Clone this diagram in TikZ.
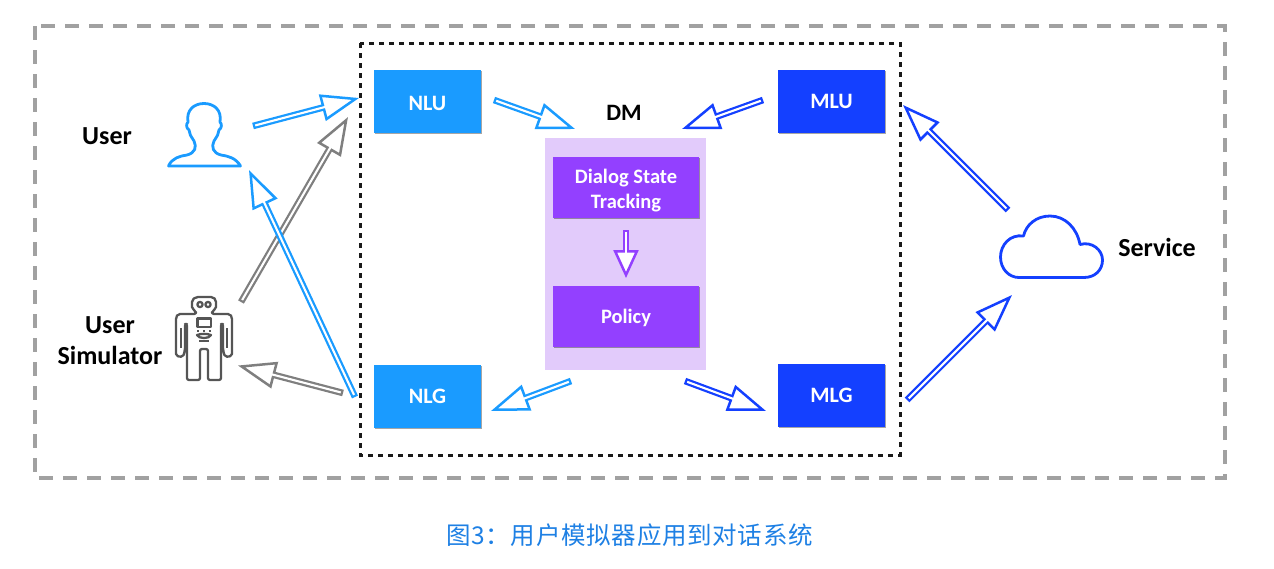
\documentclass[tikz,border=0pt]{standalone}
\usepackage{fontspec}
\setmainfont{Carlito}
\newfontfamily\cjkfont[LetterSpace=3]{Noto Sans CJK SC}
\usetikzlibrary{arrows.meta,shadows,calc}
\definecolor{lblue}{HTML}{1A9BFF}
\definecolor{dblue}{HTML}{1440FF}
\definecolor{purp}{HTML}{9340FF}
\definecolor{lpurp}{HTML}{E2CBFB}
\definecolor{arrgray}{HTML}{7F7F7F}
\definecolor{robgray}{HTML}{555555}
\definecolor{capblue}{HTML}{1E80E4}
\newcommand{\shifted}[2]{\smash{\raisebox{#1}{#2}}}
\tikzset{
  x=1pt,y=-1pt,
  softshadow/.style={drop shadow={shadow xshift=0.6pt,shadow yshift=-1.2pt,opacity=.35,fill=black}},
  box/.style={minimum width=#1,inner sep=0pt,align=center,text=white,softshadow},
  nlbox/.style={box=107pt,minimum height=63pt,fill=lblue,font=\fontsize{22}{25}\selectfont\bfseries},
  mlbox/.style={box=107pt,minimum height=63pt,fill=dblue,font=\fontsize{22}{25}\selectfont\bfseries},
  dmbox/.style={box=146pt,minimum height=61pt,fill=purp,font=\fontsize{20.5}{25}\selectfont\bfseries},
  lab/.style={font=\fontsize{26}{31}\selectfont\bfseries,align=center,text=black,inner sep=0pt},
  hollow/.style={draw=#1,line width=6.6pt,line join=miter,
    -{Triangle[length=38pt,width=27pt,fill=white,line width=2.5pt]},
    postaction={draw=white,line width=2.1pt,-,shorten <=2.3pt,shorten >=21pt}},
  hollowshort/.style={draw=#1,line width=6.6pt,line join=miter,
    -{Triangle[length=28pt,width=25pt,fill=white,line width=2.5pt]},
    postaction={draw=white,line width=2.1pt,-,shorten <=2.3pt,shorten >=16pt}},
  outerframe/.style={draw=black!37,line width=3.4pt,dash pattern=on 14pt off 10pt},
  innerframe/.style={draw=black!90,line width=3pt,dash pattern=on 5pt off 5pt},
  icon/.style={line width=2.8pt,line join=round,line cap=round},
}
\begin{document}
\begin{tikzpicture}
\useasboundingbox (0,0) rectangle (1274,568);
\draw[outerframe] (35,26) rectangle (1225,478);
\draw[innerframe] (360,43) rectangle (900,455);

% DM block
\node[fill=lpurp,minimum width=161pt,minimum height=232pt,inner sep=0pt] (dm) at (625.5,254) {};
\node[dmbox] (dst) at (626,187.5) {\shifted{-8.5pt}{\begin{tabular}{@{}c@{}}Dialog State\\Tracking\end{tabular}}};
\node[dmbox] (policy) at (626,316.5) {\shifted{-6.7pt}{Policy}};
\node[lab,font=\fontsize{23.5}{31}\selectfont\bfseries] (dmlabel) at (624,112.5) {DM};

% boxes
\node[nlbox] (nlu) at (427.5,101.5) {\shifted{-8.5pt}{NLU}};
\node[nlbox] (nlg) at (427.5,396) {\shifted{-7.5pt}{NLG}};
\node[mlbox] (mlu) at (831.5,101.5) {\shifted{-6.5pt}{MLU}};
\node[mlbox] (mlg) at (831.5,395.5) {\shifted{-7pt}{MLG}};

% labels
\node[lab] (userlabel) at (107,135.7) {User};
\node[lab] (simlabel) at (110,340.2) {User\\Simulator};
\node[lab] (servicelabel) at (1157,247) {Service};
\node[text=capblue,inner sep=0pt,font=\fontsize{24.5}{28}\selectfont\cjkfont] (caption) at (629.5,535) {图3：用户模拟器应用到对话系统};

% user icon
\draw[lblue,icon] (168.5,166) .. controls (172,158) and (180,156) .. (187,155)
  .. controls (195,153) and (197,147) .. (194,141)
  .. controls (191,136) and (189,134) .. (189,130)
  .. controls (186,128) and (186,124) .. (188,122)
  .. controls (186,110) and (194,103.5) .. (204,103.5)
  .. controls (214,103.5) and (222,110) .. (220,122)
  .. controls (222,124) and (222,128) .. (219,130)
  .. controls (219,134) and (217,136) .. (214,141)
  .. controls (211,147) and (213,153) .. (221,155)
  .. controls (228,156) and (236,158) .. (240.5,166) -- cycle;

% cloud icon
\draw[dblue,icon] (1019,277.5) -- (1084,277.5)
  .. controls (1095,277.5) and (1102.5,270) .. (1102.5,260)
  .. controls (1102.5,250) and (1092,241) .. (1080,244.5)
  .. controls (1077,228) and (1065,216) .. (1050,216)
  .. controls (1036,216) and (1026,225) .. (1023.5,236)
  .. controls (1010,234) and (1000.5,245) .. (1000.5,257)
  .. controls (1000.5,269) and (1009,277.5) .. (1019,277.5) -- cycle;

% robot icon
\begin{scope}[robgray,line width=2.3pt,line join=round]
  \draw[rounded corners=2pt] (196,297) -- (213,297) -- (216,300) -- (216,309) -- (212,311) -- (212,314)
    -- (230,314) -- (232,317) -- (232,346) -- (232,356) -- (225,357) -- (223,350) -- (223,324) -- (221,324)
    -- (221,346) -- (221,380) -- (208,380) -- (208,349) -- (200,349) -- (200,380) -- (187,380) -- (187,346)
    -- (187,324) -- (185,324) -- (185,350) -- (183,357) -- (176,356) -- (176,317) -- (178,314)
    -- (196,314) -- (196,311) -- (192,309) -- (192,300) -- cycle;
  \draw (200,304.5) circle (2.6pt) (208,304.5) circle (2.6pt);
  \draw (197.5,318.5) rectangle (211,327);
  \draw (197,331) -- (199,331) (203,331) -- (205,331) (209,331) -- (211,331);
  \draw (197,335) .. controls (201,333.5) and (207,333.5) .. (211,335) .. controls (210,339) and (198,339) .. (197,335) -- cycle;
  \draw (199,341) -- (209,341);
  \draw (181,328) -- (181,348) (227,328) -- (227,348);
\end{scope}

% connector end points
\coordinate (userout) at (253,126);
\coordinate (userin) at (359,98);
\coordinate (robotout) at (241,302);
\coordinate (robotend) at (348,117);
\coordinate (nlgout) at (355,397);
\coordinate (usertip) at (249,170);
\coordinate (nlgout2) at (343,393);
\coordinate (robottip) at (238,365.5);
\coordinate (nluout) at (494,100);
\coordinate (dmin) at (575,129);
\coordinate (mluout) at (763,100);
\coordinate (dmin2) at (682,129);
\coordinate (dmout) at (571,381);
\coordinate (nlgin) at (491,411);
\coordinate (dmout2) at (685,381);
\coordinate (mlgin) at (766,411);
\coordinate (cloudout) at (1008,210);
\coordinate (mluin) at (903,105);
\coordinate (mlgout) at (907,400);
\coordinate (cloudin) at (1012,295);
\coordinate (dstout) at (626,230);
\coordinate (policyin) at (626,278);

% connectors
\draw[hollow=arrgray] (robotout) -- (robotend);
\draw[hollow=lblue] (nlgout) -- (usertip);
\draw[hollow=lblue] (userout) -- (userin);
\draw[hollow=arrgray] (nlgout2) -- (robottip);
\draw[hollow=lblue] (nluout) -- (dmin);
\draw[hollow=dblue] (mluout) -- (dmin2);
\draw[hollow=lblue] (dmout) -- (nlgin);
\draw[hollow=dblue] (dmout2) -- (mlgin);
\draw[hollow=dblue] (cloudout) -- (mluin);
\draw[hollow=dblue] (mlgout) -- (cloudin);
\draw[hollowshort=purp] (dstout) -- (policyin);
\end{tikzpicture}
\end{document}
